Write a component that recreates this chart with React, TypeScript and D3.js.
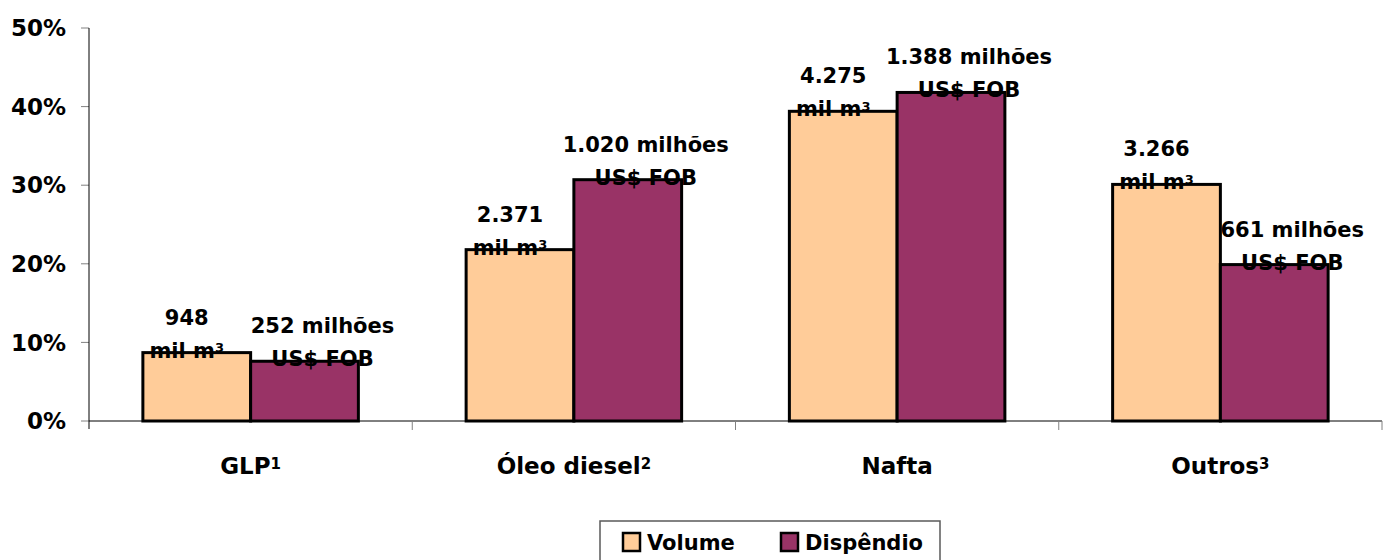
import React, { useRef, useEffect } from "react";
import * as d3 from "d3";

/* categories + superscript note markers */
const CATEGORIES = ["GLP", "Óleo diesel", "Nafta", "Outros"];
const NOTES = ["1", "2", "", "3"];

/* share of total (%) */
const VOLUME = [8.7, 21.8, 39.4, 30.1];
const DISPENDIO = [7.6, 30.7, 41.8, 19.9];

/* data labels */
const VOLUME_LABELS = ["948", "2.371", "4.275", "3.266"];
const DISPENDIO_LABELS = ["252 milhões", "1.020 milhões", "1.388 milhões", "661 milhões"];

const Y_TICKS = [0, 10, 20, 30, 40, 50];
const SERIES = ["Volume", "Dispêndio"];
const COLORS = ["#FFCC99", "#993366"];

const FONT = "'DejaVu Sans', sans-serif";

export default function App() {
  const svgRef = useRef<SVGSVGElement | null>(null);

  useEffect(() => {
    const W = 1384;
    const H = 560;
    const M = { top: 28, right: 2, bottom: 139, left: 89 };
    const iw = W - M.left - M.right;
    const ih = H - M.top - M.bottom;

    const svg = d3.select(svgRef.current);
    svg.selectAll("*").remove();
    svg.attr("viewBox", `0 0 ${W} ${H}`).style("font-family", FONT);

    const x = d3.scaleBand<string>().domain(CATEGORIES).range([0, iw]).paddingInner(0).paddingOuter(0);
    const bw = x.bandwidth();
    const barW = bw / 3; // gap width 100%
    const y = d3.scaleLinear().domain([0, 50]).range([ih, 0]);

    const g = svg.append("g").attr("transform", `translate(${M.left},${M.top})`);

    /* ---- y axis ---- */
    g.append("g")
      .selectAll("line")
      .data(Y_TICKS)
      .enter()
      .append("line")
      .attr("x1", -8)
      .attr("x2", 0)
      .attr("y1", (d) => y(d))
      .attr("y2", (d) => y(d))
      .attr("stroke", "#808080")
      .attr("stroke-width", 1);

    g.append("g")
      .selectAll("text")
      .data(Y_TICKS)
      .enter()
      .append("text")
      .attr("x", -23)
      .attr("y", (d) => y(d))
      .attr("dy", "0.36em")
      .attr("text-anchor", "end")
      .style("font-size", "23px")
      .style("font-weight", 700)
      .attr("fill", "#000")
      .text((d) => `${d}%`);

    /* ---- bars ---- */
    const groups = g
      .selectAll("g.cat")
      .data(CATEGORIES)
      .enter()
      .append("g")
      .attr("class", "cat")
      .attr("transform", (d) => `translate(${x(d)! + barW / 2},0)`);

    [VOLUME, DISPENDIO].forEach((vals, s) => {
      groups
        .append("rect")
        .attr("x", s * barW)
        .attr("y", (_, i) => y(vals[i]))
        .attr("width", barW)
        .attr("height", (_, i) => ih - y(vals[i]))
        .attr("fill", COLORS[s])
        .attr("stroke", "#000")
        .attr("stroke-width", 3);
    });

    /* ---- x axis ---- */
    g.append("line")
      .attr("x1", 0)
      .attr("x2", iw)
      .attr("y1", ih)
      .attr("y2", ih)
      .attr("stroke", "#000")
      .attr("stroke-width", 1);

    g.append("line")
      .attr("x1", 0)
      .attr("x2", 0)
      .attr("y1", 0)
      .attr("y2", ih + 8)
      .attr("stroke", "#000")
      .attr("stroke-width", 1);

    g.append("g")
      .selectAll("line")
      .data(d3.range(1, CATEGORIES.length + 1))
      .enter()
      .append("line")
      .attr("x1", (i) => i * bw)
      .attr("x2", (i) => i * bw)
      .attr("y1", ih)
      .attr("y2", ih + 9)
      .attr("stroke", "#808080");

    const catText = g
      .append("g")
      .selectAll("text")
      .data(CATEGORIES)
      .enter()
      .append("text")
      .attr("x", (d) => x(d)! + bw / 2)
      .attr("y", ih + 53)
      .attr("text-anchor", "middle")
      .style("font-size", "23px")
      .style("font-weight", 700)
      .attr("fill", "#000");
    catText.append("tspan").text((d) => d);
    catText
      .append("tspan")
      .attr("dy", "-0.35em")
      .style("font-size", "15px")
      .text((_, i) => NOTES[i]);

    /* ---- data labels ---- */
    const lab = (
      s: number,
      line1: string[],
      line2: (sel: d3.Selection<SVGTextElement, string, SVGGElement, unknown>) => void,
      dx: number
    ) => {
      const vals = s === 0 ? VOLUME : DISPENDIO;
      const cx = (i: number) => barW / 2 + s * barW + dx;
      groups
        .append("text")
        .attr("x", (_, i) => cx(i))
        .attr("y", (_, i) => y(vals[i]) - 28)
        .attr("text-anchor", "middle")
        .style("font-size", "21px")
        .style("font-weight", 700)
        .text((_, i) => line1[i]);
      const t = groups
        .append("text")
        .attr("x", (_, i) => cx(i))
        .attr("y", (_, i) => y(vals[i]) + 5)
        .attr("text-anchor", "middle")
        .style("font-size", "21px")
        .style("font-weight", 700);
      line2(t as any);
    };

    lab(
      0,
      VOLUME_LABELS,
      (t) => {
        t.append("tspan").text("mil m");
        t.append("tspan").attr("dy", "-0.4em").style("font-size", "13px").text("3");
      },
      -10
    );
    lab(1, DISPENDIO_LABELS, (t) => t.text("US$ FOB"), 18);

    /* ---- legend ---- */
    const lg = svg.append("g").attr("transform", "translate(600,521)");
    lg.append("rect")
      .attr("x", 0)
      .attr("y", 0)
      .attr("width", 340)
      .attr("height", 50)
      .attr("fill", "#fff")
      .attr("stroke", "#595959")
      .attr("stroke-width", 1.5);
    const items = lg
      .selectAll("g.item")
      .data(SERIES)
      .enter()
      .append("g")
      .attr("class", "item")
      .attr("transform", (_, i) => `translate(${[23, 181][i]},0)`);
    items
      .append("rect")
      .attr("x", 0)
      .attr("y", 12)
      .attr("width", 17)
      .attr("height", 18)
      .attr("fill", (_, i) => COLORS[i])
      .attr("stroke", "#000")
      .attr("stroke-width", 2.5);
    items
      .append("text")
      .attr("x", 24)
      .attr("y", 29)
      .style("font-size", "21px")
      .style("font-weight", 700)
      .text((d) => d);
  }, []);

  return (
    <svg
      ref={svgRef}
      width={1384}
      height={560}
      style={{ position: "absolute", left: 0, top: 0, background: "#fff" }}
    />
  );
}
